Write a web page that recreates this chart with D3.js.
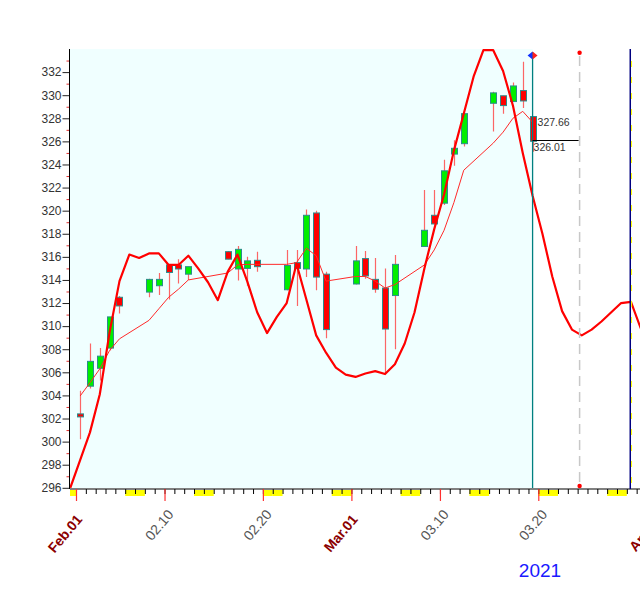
<!DOCTYPE html>
<html><head><meta charset="utf-8">
<script src="https://cdn.jsdelivr.net/npm/d3@7"></script>
<style>html,body{margin:0;padding:0;background:#fff;} svg{display:block;font-family:"Liberation Sans",Arial,sans-serif;}</style>
</head><body><svg id="c" width="640" height="592"></svg>
<script>
// ---------------- DATA ----------------
const dates = ["2021-02-01","2021-02-02","2021-02-03","2021-02-04","2021-02-05",
 "2021-02-08","2021-02-09","2021-02-10","2021-02-11","2021-02-12",
 "2021-02-16","2021-02-17","2021-02-18","2021-02-19",
 "2021-02-22","2021-02-23","2021-02-24","2021-02-25","2021-02-26",
 "2021-03-01","2021-03-02","2021-03-03","2021-03-04","2021-03-05",
 "2021-03-08","2021-03-09","2021-03-10","2021-03-11","2021-03-12",
 "2021-03-15","2021-03-16","2021-03-17","2021-03-18","2021-03-19"];
const open  = [302.4,304.8,306.35,308.1,312.5, 312.95,313.5,315.3,315.3,314.5, 316.45,314.95,315.0,315.7, 313.15,315.5,314.95,319.8,314.5, 313.65,315.85,314.05,313.3,312.65, 316.9,319.6,320.65,324.9,325.8, 329.3,329.95,329.45,330.4,328.15];
const high  = [304.4,308.5,308.1,310.8,312.6, 314.1,314.6,315.3,315.8,315.15, 316.5,316.95,316.0,316.45, 316.6,316.6,320.1,320.0,314.7, 316.95,316.5,315.9,315.0,316.15, 321.8,321.8,324.4,326.1,328.4, 330.3,329.95,331.1,332.9,328.15];
const low   = [300.2,304.6,305.3,307.9,311.1, 312.5,312.7,312.3,313.7,314.0, 315.8,313.95,313.5,314.7, 313.1,311.75,314.25,313.1,308.95, 313.6,314.1,312.9,305.9,308.0, 316.9,318.8,320.5,323.9,325.55, 326.85,328.4,329.45,328.9,325.1];
const close = [302.2,306.95,307.4,310.8,311.75, 314.05,314.05,314.65,314.95,315.15, 315.8,316.65,315.65,315.15, 315.25,315.0,319.6,314.25,309.7, 315.65,314.35,313.2,309.75,315.35, 318.3,318.85,323.45,325.4,328.4, 330.2,329.1,330.8,329.5,326.01];
const maValues = [303.95,305.1,306.3,307.9,308.9, 310.5,311.5,312.5,313.2,314.0, 314.6,315.3,315.35,315.35, 315.35,315.5,316.75,316.1,313.9, 314.3,314.3,313.9,313.3,313.6, 315.3,316.6,318.3,320.7,323.5, 325.85,326.8,328.0,328.6,327.66];
// cycle curve: one value per calendar day, 2021-01-31 .. 2021-03-30
const cycleStart = "2021-01-31";
const cycleValues = [296.0,298.4,300.8,304.1,309.5,313.9,316.2,315.9,316.3,316.3,315.3,315.3,316.1,315.0,313.8,312.25,
 314.7,316.2,313.85,311.2,309.4,310.8,312.0,315.4,312.3,309.2,307.7,306.4,305.8,305.6,305.9,306.1,305.85,306.7,
 308.5,311.2,315.0,318.4,321.4,325.2,328.4,331.6,333.9,333.9,332.1,329.1,325.0,321.3,318.0,314.3,311.3,309.7,
 309.2,309.7,310.4,311.2,312.0,312.1,309.8];
const yMajor = [296,298,300,302,304,306,308,310,312,314,316,318,320,322,324,326,328,330,332];
const yMinor = [297,299,301,303,305,307,309,311,313,315,317,319,321,323,325,327,329,331,333];
const xLabelDates = ["2021-02-01","2021-02-10","2021-02-20","2021-03-01","2021-03-10","2021-03-20","2021-04-01"];
const xLabelTexts = ["Feb.01","02.10","02.20","Mar.01","03.10","03.20","Apr.01"];
const xLabelMonth = [true,false,false,true,false,false,true];
const yearLabel = "2021";
const cycleLowDate = "2021-03-24", cycleHighDate = "2021-03-29";
const maLabel = "327.66", closeLabel = "326.01";

// ---------------- SCALES ----------------
const X0 = Date.UTC(2021,1,1);
const di = s => (Date.parse(s) - X0) / 864e5;
const x = d3.scaleLinear().domain([-0.61, 57.34]).range([70, 640]);
const y = d3.scaleLinear().domain([296, 334]).range([487.8, 49]);
const CO = 0.42;               // bar centre within its day
const xc = s => x(di(s) + CO);
const dayW = x(1) - x(0);

const svg = d3.select("#c");
const pTop = 49, pBottom = 488.5, pLeft = 70;
const lastX = xc(dates[dates.length-1]);

const defs = svg.append("defs");
defs.append("clipPath").attr("id","plot")
  .append("rect").attr("x",pLeft).attr("y",pTop).attr("width",640-pLeft).attr("height",pBottom-pTop);
defs.append("clipPath").attr("id","axclip").append("rect").attr("x",pLeft).attr("y",480).attr("width",640-pLeft).attr("height",30);

// background
svg.append("rect").attr("x",pLeft).attr("y",pTop).attr("width",lastX-pLeft).attr("height",pBottom-pTop).attr("fill","#f0ffff");

// weekends & day ticks
const allDays = d3.utcDay.range(new Date(Date.UTC(2021,0,30)), new Date(Date.UTC(2021,3,3)));
const axisG = svg.append("g").attr("clip-path","url(#axclip)");
allDays.filter(d => d.getUTCDay()===0 || d.getUTCDay()===6).forEach(d => {
  const i = (d - X0)/864e5;
  axisG.append("rect").attr("x",x(i)).attr("y",489).attr("width",dayW).attr("height",7).attr("fill","#ffff00");
});
axisG.append("line").attr("x1",pLeft).attr("x2",640).attr("y1",489).attr("y2",489).attr("stroke","#808080").attr("stroke-width",2);
allDays.forEach(d => {
  const i = (d - X0)/864e5;
  axisG.append("line").attr("x1",x(i)+0.5).attr("x2",x(i)+0.5).attr("y1",489).attr("y2",494).attr("stroke","#000").attr("stroke-width",1);
});
xLabelDates.forEach(s => {
  const xx = x(di(s));
  axisG.append("line").attr("x1",xx+0.5).attr("x2",xx+0.5).attr("y1",489).attr("y2",501).attr("stroke","#ff3030").attr("stroke-width",1.2);
});

// x labels
xLabelDates.forEach((s,k) => {
  const xx = x(di(s));
  const m = xLabelMonth[k];
  const ax = xx + (m ? 7 : 9.7), ay = m ? 519.7 : 514.7;
  svg.append("text").attr("transform",`translate(${ax},${ay}) rotate(-50)`)
    .attr("text-anchor","end").attr("font-size",14)
    .attr("font-weight", m ? "bold" : "normal")
    .attr("fill", m ? "#8b0000" : "#555")
    .text(xLabelTexts[k]);
});
svg.append("text").attr("x",540).attr("y",577).attr("text-anchor","middle").attr("font-size",19)
  .attr("fill","#1a1aff").text(yearLabel);

// y axis
const yMaj = d3.axisLeft(y).tickValues(yMajor).tickSize(7).tickSizeOuter(0).tickPadding(1).tickFormat(d3.format("d"));
const gy = svg.append("g").attr("transform",`translate(${pLeft-0.5},0)`).call(yMaj);
gy.select(".domain").remove();
gy.selectAll(".tick line").attr("stroke","#222");
gy.selectAll(".tick text").attr("font-size",12).attr("fill","#333").attr("font-family","Liberation Sans, Arial, sans-serif");
const yMin = d3.axisLeft(y).tickValues(yMinor).tickSize(3).tickSizeOuter(0).tickFormat("");
const gy2 = svg.append("g").attr("transform",`translate(${pLeft-0.5},0)`).call(yMin);
gy2.select(".domain").remove();
gy2.selectAll(".tick line").attr("stroke","#e03030");
svg.append("line").attr("x1",pLeft-0.5).attr("x2",pLeft-0.5).attr("y1",pTop).attr("y2",489).attr("stroke","#000").attr("stroke-width",1);

// candles
const plot = svg.append("g").attr("clip-path","url(#plot)");
const bw = Math.round(dayW*0.61);
dates.forEach((s,k) => {
  const cx = Math.round(xc(s)) + 0.5;
  plot.append("line").attr("x1",cx).attr("x2",cx).attr("y1",y(high[k])).attr("y2",y(low[k]))
    .attr("stroke","#ff4040").attr("stroke-opacity",0.8).attr("stroke-width",1.2);
});
dates.forEach((s,k) => {
  const cx = Math.round(xc(s));
  const up = close[k] >= open[k];
  const y1 = y(Math.max(open[k],close[k])), y2 = y(Math.min(open[k],close[k]));
  plot.append("rect").attr("x",cx - bw/2 + 0.5).attr("y",y1).attr("width",bw).attr("height",Math.max(3,y2-y1))
    .attr("fill", up ? "#00ee00" : "#ff0000").attr("stroke","#2a8c8c").attr("stroke-width",1);
});

// moving average (thin)
const ma = dates.map((s,k) => [xc(s), y(maValues[k])]);
plot.append("path").attr("d", d3.line()(ma)).attr("fill","none").attr("stroke","#ff2a2a").attr("stroke-width",1);

// cycle curve (thick)
const cs = di(cycleStart);
const cyc = cycleValues.map((v,k) => [x(cs + k + CO), y(v)]);
plot.append("path").attr("d", d3.line()(cyc)).attr("fill","none").attr("stroke","#ff0000").attr("stroke-width",2.2).attr("stroke-linejoin","round");

// current bar line
svg.append("line").attr("x1",lastX).attr("x2",lastX).attr("y1",52).attr("y2",488).attr("stroke","#008080").attr("stroke-width",1.3);
svg.append("path").attr("d",`M${lastX-5},55.5 L${lastX},51.5 L${lastX},59.5 Z`).attr("fill","#1030ff");
svg.append("path").attr("d",`M${lastX+5},55.5 L${lastX},51.5 L${lastX},59.5 Z`).attr("fill","#ff2020");

// cycle low dashed line
const xl = x(di(cycleLowDate) + 0.2);
svg.append("line").attr("x1",xl).attr("x2",xl).attr("y1",56).attr("y2",484).attr("stroke","#c8c8c8").attr("stroke-width",1.5).attr("stroke-dasharray","10,6");
svg.append("circle").attr("cx",xl).attr("cy",52.7).attr("r",2.2).attr("fill","#ff0000");
svg.append("circle").attr("cx",xl).attr("cy",486).attr("r",2.2).attr("fill","#ff0000");

// cycle high navy line
const xh = x(di(cycleHighDate) + 0.35);
svg.append("line").attr("x1",xh).attr("x2",xh).attr("y1",pTop).attr("y2",489).attr("stroke","#000080").attr("stroke-width",1.5);
svg.append("line").attr("x1",xh+1.3).attr("x2",xh+1.3).attr("y1",pTop+12).attr("y2",489).attr("stroke","#ffff00").attr("stroke-width",1).attr("stroke-dasharray","6,10");

// close marker and labels
const yc = y(close[close.length-1]);
svg.append("line").attr("x1",lastX).attr("x2",xl-1).attr("y1",Math.round(yc)-0.5).attr("y2",Math.round(yc)-0.5).attr("stroke","#000").attr("stroke-width",1);
svg.append("text").attr("x",lastX+5).attr("y",y(maValues[maValues.length-1])+3.5).attr("font-size",10.5).attr("fill","#333").text(maLabel);
svg.append("text").attr("x",lastX+1).attr("y",yc+10).attr("font-size",10.5).attr("fill","#333").text(closeLabel);
</script></body></html>
